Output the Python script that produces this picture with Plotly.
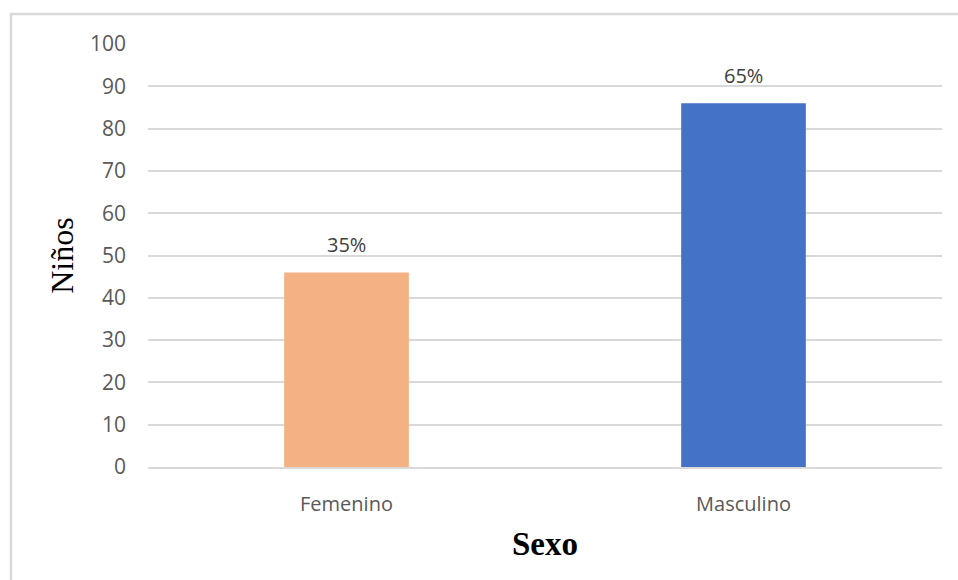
import plotly.graph_objects as go

categories = ["Femenino", "Masculino"]
values = [46, 86]
pct_labels = ["35%", "65%"]
colors = ["#F4B183", "#4472C4"]

W, H = 958, 580
L, R, T, B = 148, 16, 44, 113
pw, ph = W - L - R, H - T - B

fig = go.Figure(go.Bar(x=categories, y=values, marker_color=colors,
                       marker_line_width=0, width=0.314, hoverinfo="skip"))

for c, v, t in zip(categories, values, pct_labels):
    fig.add_annotation(x=c, y=v, text=t, showarrow=False, yanchor="bottom",
                       yshift=12, font=dict(family="Open Sans", size=20, color="#404040"))

# outer chart border (left/top visible)
fig.add_shape(type="rect", xref="paper", yref="paper",
              x0=(11 - L) / pw, x1=1.2, y0=-0.6, y1=1 + (T - 14) / ph,
              line=dict(color="#d9d9d9", width=2.5), layer="below")

fig.update_layout(
    width=W, height=H, margin=dict(l=L, r=R, t=T, b=B),
    plot_bgcolor="white", paper_bgcolor="white", showlegend=False,
    xaxis=dict(showgrid=False, showline=True, linecolor="#d9d9d9", linewidth=2,
               tickfont=dict(family="Open Sans", size=20, color="#595959"),
               ticklabelstandoff=18,
               title=dict(text="<b>Sexo</b>", standoff=16,
                          font=dict(family="Liberation Serif", size=33, color="black"))),
    yaxis=dict(range=[0, 100], dtick=10, showgrid=True, gridcolor="#d9d9d9", gridwidth=1.5,
               zeroline=False, showline=False,
               tickfont=dict(family="Open Sans", size=21, color="#595959"),
               ticklabelstandoff=21,
               title=dict(text="Niños", standoff=6,
                          font=dict(family="Liberation Serif", size=32, color="black"))),
)

fig.write_html("out.html")
